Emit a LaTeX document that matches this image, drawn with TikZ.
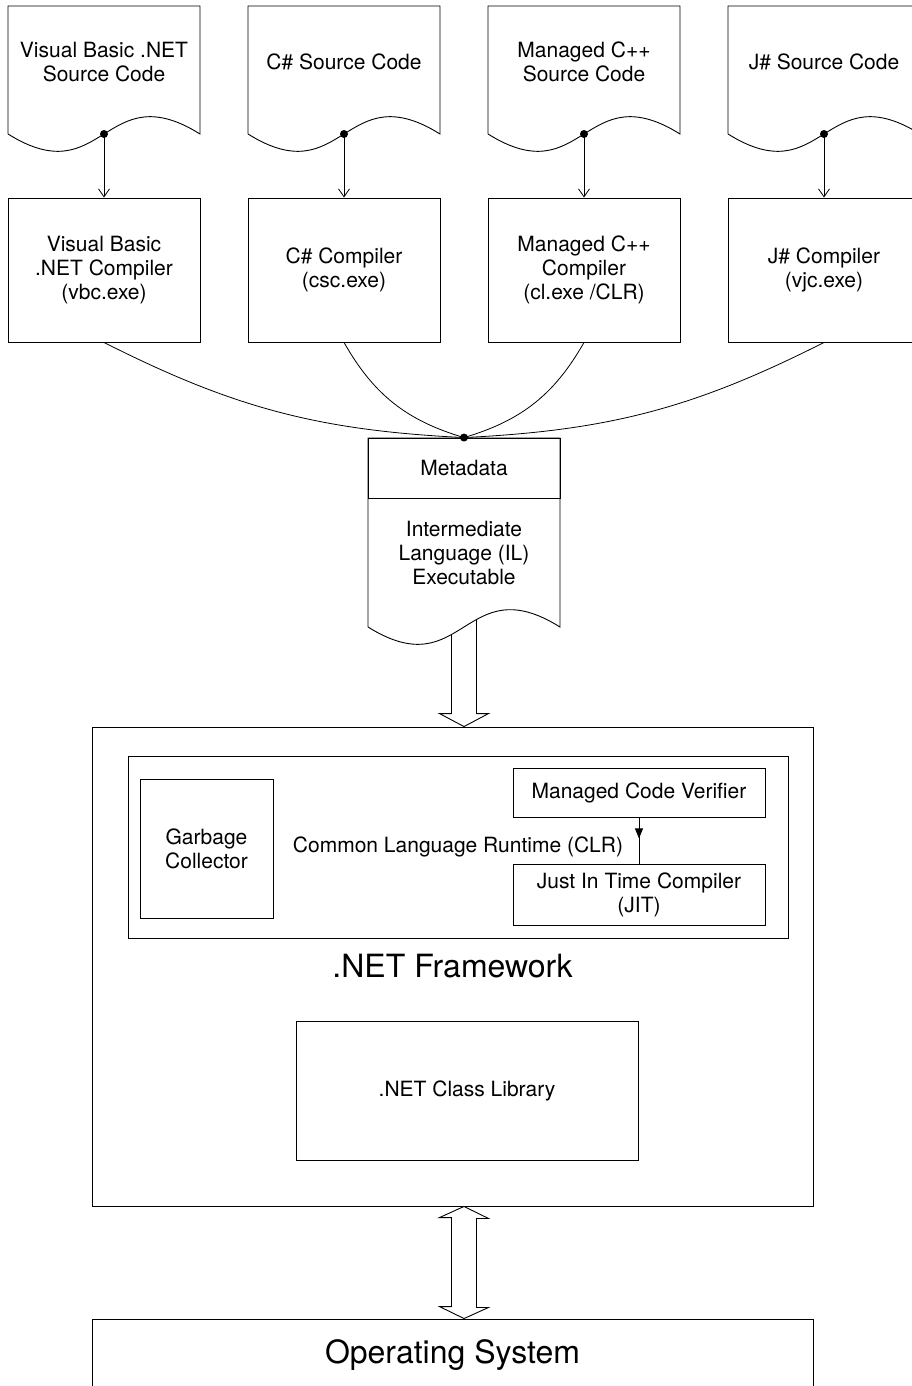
\documentclass[tikz,border=0pt]{standalone}
\usepackage{fontspec}
\setmainfont{TeX Gyre Heros}
\usetikzlibrary{calc,arrows.meta}

% document outline with a wavy bottom; #1 names the middle of the wave
\newcommand{\docshape}[4]{% name, centre x, top y, wave y
  \draw[doc] (#2-96,#4) -- (#2-96,#3) -- (#2+96,#3) -- (#2+96,#4)
    .. controls (#2,#4-60) and (#2,#4+60) .. (#2-96,#4);
  \coordinate (#1) at (#2,#4);}

\begin{document}
\begin{tikzpicture}[x=1pt, y=-1pt,
  every node/.style={font=\fontsize{21}{24}\selectfont, align=center},
  box/.style={draw, line width=0.9pt, inner sep=0pt},
  compiler/.style={box, minimum width=192pt, minimum height=144pt},
  doc/.style={draw, line width=0.9pt, fill=white},
  arrow/.style={-{Straight Barb[length=8pt,width=11pt]}, line width=0.8pt},
  link/.style={line width=0.8pt},
  fat/.style={draw, line width=0.9pt, fill=white},
  big/.style={font=\fontsize{32}{38}\selectfont}
]
\useasboundingbox (0,0) rectangle (912,1386);
\clip (0,0) rectangle (912,1386);
% source code documents (top row)
\docshape{vbdot}{104}{6}{134}
\node (vbsrc) at (104,62) {Visual Basic .NET\\Source Code};
\docshape{csdot}{344}{6}{134}
\node (cssrc) at (344,62) {C\# Source Code};
\docshape{cppdot}{584}{6}{134}
\node (cppsrc) at (584,62) {Managed C++\\Source Code};
\docshape{jsdot}{824}{6}{134}
\node (jssrc) at (824,62) {J\# Source Code};
% compilers
\node[compiler] (vbc) at (104,270) {Visual Basic\\.NET Compiler\\(vbc.exe)};
\node[compiler] (csc) at (344,270) {C\# Compiler\\(csc.exe)};
\node[compiler] (cpp) at (584,270) {Managed C++\\Compiler\\(cl.exe /CLR)};
\node[compiler] (vjc) at (824,270) {J\# Compiler\\(vjc.exe)};
\draw[arrow] (vbdot) -- (vbc.north);
\draw[arrow] (csdot) -- (csc.north);
\draw[arrow] (cppdot) -- (cpp.north);
\draw[arrow] (jsdot) -- (vjc.north);
\fill (vbdot) circle (4pt);
\fill (csdot) circle (4pt);
\fill (cppdot) circle (4pt);
\fill (jsdot) circle (4pt);
% .NET Framework
\node[box, big, minimum width=721pt, minimum height=479pt] (fw) at (452.5,966.5) {.NET Framework};
\node[box, minimum width=660pt, minimum height=182pt] (clr) at (458,847) {Common Language Runtime (CLR)};
\node[box, minimum width=133pt, minimum height=139pt] (gc) at (206.5,848.5) {Garbage\\Collector};
\node[box, minimum width=252pt, minimum height=49pt] (mcv) at (639,792.5) {Managed Code Verifier};
\node[box, minimum width=252pt, minimum height=61pt] (jit) at (639,894.5) {Just In Time Compiler\\(JIT)};
\draw[link] (mcv.south) -- (jit.north);
\coordinate (vtip) at ($(mcv.south)+(0,21)$);
\draw[link, -{Triangle[length=10pt,width=8pt]}] (mcv.south) -- (vtip);
\node[box, minimum width=342pt, minimum height=139pt] (lib) at (467,1090.5) {.NET Class Library};
% IL executable, hollow arrow behind it
\node[box, minimum width=192pt, minimum height=60pt] (meta) at (464,468) {};
\draw[fat] (fw.north -| meta) -- ++(24.5,-13) -- ++(-12,0) -- ++(0,-99) -- ++(-25,0) -- ++(0,99) -- ++(-12,0) -- cycle;
\docshape{ilwave}{464}{438}{627}
\node[box, minimum width=192pt, minimum height=60pt] (meta) at (464,468) {Metadata};
\node (il) at (464,553) {Intermediate\\Language (IL)\\Executable};
\draw[link] (vbc.south) to[bend right=12] (meta.north);
\draw[link] (csc.south) to[bend right=22] (meta.north);
\draw[link] (cpp.south) to[bend left=22] (meta.north);
\draw[link] (vjc.south) to[bend left=12] (meta.north);
\fill (meta.north) circle (4pt);
% operating system
\node[box, big, minimum width=721pt, minimum height=72pt] (os) at (452.5,1355) {Operating System};
\draw[fat] (fw.south -| meta) -- ++(24.5,12) -- ++(-12,0) -- ++(0,89) -- ++(12,0) -- (os.north -| meta) -- ++(-24.5,-12) -- ++(12,0) -- ++(0,-89) -- ++(-12,0) -- cycle;
\end{tikzpicture}
\end{document}
